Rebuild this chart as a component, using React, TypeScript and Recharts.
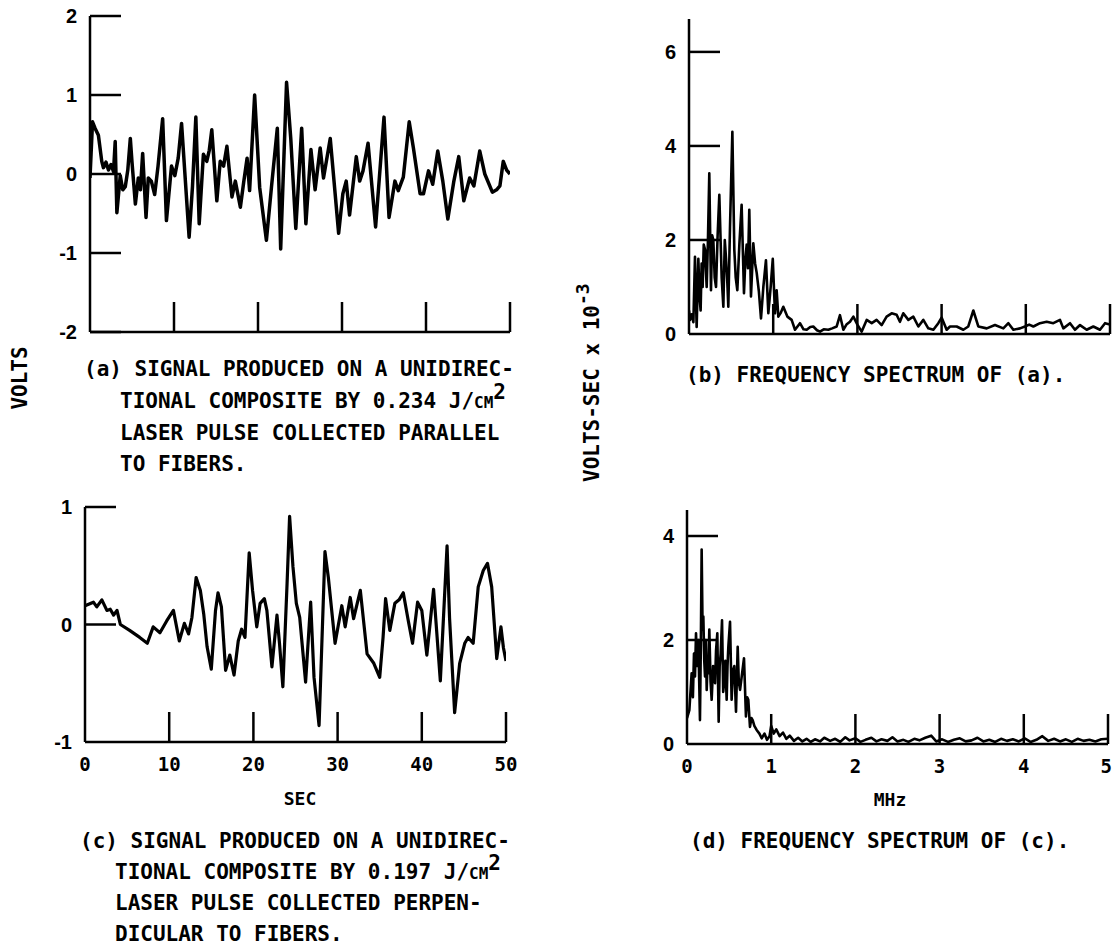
import { LineChart, Line, XAxis, YAxis } from 'recharts';

// (a) signal, parallel to fibers: time (sec) / volts
const timeA = [
  0, 0.3, 0.6, 1.0, 1.4, 1.6, 1.9, 2.2, 2.5, 2.8,
  3.0, 3.2, 3.6, 3.9, 4.2, 4.5, 4.8, 5.0, 5.4, 5.75,
  6.0, 6.27, 6.67, 6.94, 7.3, 7.7, 8.1, 8.65, 9.1, 9.7,
  10.1, 10.5, 10.9, 11.8, 12.2, 12.6, 13.0, 13.5, 13.9, 14.2,
  14.5, 15.1, 15.5, 15.9, 16.3, 16.9, 17.3, 17.9, 18.3, 18.7,
  19.0, 19.6, 20.2, 21.0, 21.6, 22.3, 22.7, 23.4, 23.9, 24.5,
  25.2, 25.7, 26.3, 26.8, 27.4, 27.8, 28.6, 29.6, 30.1, 30.5,
  30.9, 31.7, 32.1, 32.5, 33.1, 34.0, 35.0, 35.6, 36.3, 36.7,
  37.3, 38.0, 38.5, 39.3, 39.7, 40.3, 40.8, 41.4, 42.0, 42.6,
  43.3, 43.9, 44.5, 45.2, 45.7, 46.4, 47.0, 47.9, 48.4, 48.8,
  49.2, 49.6, 50,
];
const voltsA = [
  -0.05, 0.66, 0.58, 0.49, 0.16, 0.08, 0.15, 0.05, 0.12, 0.03,
  0.41, -0.49, -0.02, -0.2, -0.16, 0.05, 0.45, 0.15, -0.38, -0.05,
  -0.2, 0.26, -0.55, -0.05, -0.09, -0.26, 0.1, 0.7, -0.59, 0.1,
  -0.02, 0.2, 0.64, -0.8, -0.16, 0.72, -0.63, 0.25, 0.16, 0.3,
  0.56, -0.34, 0.16, 0.1, 0.35, -0.29, -0.09, -0.42, -0.1, 0.2,
  -0.21, 1.0, -0.17, -0.84, -0.17, 0.58, -0.95, 1.16, 0.45, -0.69,
  0.58, -0.63, 0.31, -0.2, 0.33, -0.05, 0.45, -0.75, -0.25, -0.09,
  -0.52, 0.22, -0.09, 0.04, 0.39, -0.67, 0.72, -0.55, -0.09, -0.21,
  -0.04, 0.66, 0.33, -0.25, -0.25, 0.04, -0.13, 0.29, -0.09, -0.57,
  -0.1, 0.22, -0.34, -0.05, -0.15, 0.29, 0.0, -0.23, -0.2, -0.15,
  0.16, 0.05, 0.0,
];

// (c) signal, perpendicular to fibers
const timeC = [
  0, 1.0, 1.4, 2.0, 2.6, 3.0, 3.4, 3.8, 4.2, 5.3,
  6.5, 7.4, 8.1, 8.9, 9.7, 10.5, 11.2, 11.8, 12.3, 12.7,
  13.2, 13.7, 14.1, 14.5, 15.0, 15.5, 15.8, 16.2, 16.7, 17.2,
  17.7, 18.2, 18.6, 19.0, 19.5, 19.9, 20.4, 20.8, 21.3, 21.6,
  22.2, 22.8, 23.1, 23.5, 24.0, 24.3, 24.7, 25.1, 25.5, 26.2,
  26.8, 27.2, 27.8, 28.5, 28.9, 29.7, 30.5, 30.9, 31.5, 31.9,
  32.7, 33.5, 34.3, 35.0, 35.4, 35.7, 36.2, 36.8, 37.3, 37.8,
  38.4, 38.9, 39.5, 40.0, 40.6, 41.4, 42.2, 43.0, 43.3, 43.9,
  44.5, 45.1, 45.5, 46.1, 46.7, 47.3, 47.8, 48.3, 48.9, 49.4,
  49.7, 50,
];
const voltsC = [
  0.16, 0.19, 0.15, 0.21, 0.12, 0.13, 0.08, 0.12, 0.0, -0.05,
  -0.11, -0.16, -0.02, -0.07, 0.03, 0.12, -0.14, 0.01, -0.08, 0.06,
  0.4, 0.29, 0.09, -0.19, -0.38, 0.12, 0.27, 0.15, -0.39, -0.26,
  -0.43, -0.14, -0.04, -0.11, 0.61, 0.29, -0.02, 0.18, 0.22, 0.12,
  -0.36, 0.08, -0.16, -0.53, 0.35, 0.92, 0.49, 0.18, 0.06, -0.49,
  0.19, -0.45, -0.86, 0.62, 0.4, -0.16, 0.16, -0.02, 0.23, 0.05,
  0.29, -0.25, -0.33, -0.45, -0.11, 0.22, -0.05, 0.18, 0.21, 0.27,
  0.03, -0.16, 0.19, 0.12, -0.26, 0.3, -0.48, 0.67, 0.05, -0.75,
  -0.33, -0.16, -0.11, -0.16, 0.32, 0.46, 0.52, 0.32, -0.29, -0.02,
  -0.2, -0.31,
];

// (b) spectrum of (a): MHz / volts-sec x 1e-3
const freqB = [
  0, 0.012, 0.032, 0.052, 0.071, 0.091, 0.111, 0.125, 0.138, 0.15,
  0.162, 0.175, 0.19, 0.21, 0.225, 0.241, 0.261, 0.275, 0.289, 0.305,
  0.321, 0.34, 0.36, 0.388, 0.408, 0.425, 0.44, 0.455, 0.467, 0.487,
  0.515, 0.538, 0.555, 0.574, 0.598, 0.625, 0.653, 0.67, 0.685, 0.7,
  0.716, 0.736, 0.764, 0.785, 0.804, 0.83, 0.855, 0.883, 0.914, 0.942,
  0.97, 0.995, 1.021, 1.041, 1.061, 1.09, 1.12, 1.168, 1.219, 1.259,
  1.318, 1.36, 1.398, 1.44, 1.476, 1.52, 1.556, 1.6, 1.655, 1.7,
  1.754, 1.793, 1.833, 1.87, 1.912, 1.952, 2.0, 2.05, 2.11, 2.17,
  2.228, 2.288, 2.347, 2.407, 2.466, 2.505, 2.545, 2.605, 2.664, 2.724,
  2.783, 2.842, 2.902, 2.961, 3.0, 3.06, 3.1, 3.179, 3.258, 3.317,
  3.377, 3.436, 3.536, 3.634, 3.733, 3.793, 3.852, 3.931, 3.99, 4.04,
  4.09, 4.169, 4.248, 4.327, 4.406, 4.446, 4.525, 4.584, 4.644, 4.723,
  4.802, 4.881, 4.941, 5.0,
];
const ampB = [
  0.5, 0.3, 0.42, 0.25, 1.64, 0.15, 1.6, 0.8, 0.5, 1.5,
  1.0, 1.9, 1.8, 1.0, 2.0, 3.42, 0.93, 2.1, 2.0, 1.2,
  1.0, 2.1, 2.96, 1.2, 0.58, 2.0, 1.6, 1.1, 0.58, 2.28,
  4.3, 1.8, 1.2, 0.93, 1.9, 2.75, 0.87, 1.6, 1.9, 1.4,
  2.64, 0.8, 1.93, 1.5, 1.3, 0.9, 0.33, 1.0, 1.57, 0.44,
  1.0, 1.6, 0.44, 0.93, 0.37, 0.45, 0.58, 0.37, 0.3, 0.09,
  0.23, 0.1, 0.09, 0.15, 0.16, 0.08, 0.05, 0.1, 0.09, 0.12,
  0.16, 0.4, 0.09, 0.2, 0.26, 0.37, 0.2, 0.05, 0.3, 0.23,
  0.3, 0.19, 0.37, 0.44, 0.41, 0.26, 0.44, 0.3, 0.37, 0.16,
  0.3, 0.12, 0.09, 0.23, 0.35, 0.09, 0.16, 0.16, 0.09, 0.16,
  0.5, 0.16, 0.12, 0.19, 0.12, 0.23, 0.09, 0.12, 0.16, 0.2,
  0.16, 0.23, 0.26, 0.23, 0.3, 0.12, 0.23, 0.09, 0.19, 0.09,
  0.16, 0.09, 0.23, 0.2,
];

// (d) spectrum of (c)
const freqD = [
  0, 0.028, 0.055, 0.07, 0.083, 0.095, 0.107, 0.12, 0.135, 0.145,
  0.154, 0.165, 0.174, 0.185, 0.194, 0.205, 0.214, 0.224, 0.234, 0.245,
  0.253, 0.265, 0.28, 0.293, 0.31, 0.333, 0.345, 0.36, 0.376, 0.388,
  0.4, 0.416, 0.43, 0.44, 0.455, 0.471, 0.481, 0.491, 0.511, 0.53,
  0.545, 0.562, 0.582, 0.602, 0.615, 0.63, 0.65, 0.677, 0.7, 0.715,
  0.728, 0.748, 0.765, 0.78, 0.8, 0.827, 0.86, 0.887, 0.92, 0.95,
  0.98, 1.0, 1.03, 1.06, 1.1, 1.14, 1.18, 1.22, 1.27, 1.32,
  1.37, 1.42, 1.47, 1.52, 1.58, 1.63, 1.7, 1.76, 1.82, 1.88,
  1.93, 2.0, 2.06, 2.12, 2.19, 2.25, 2.31, 2.38, 2.44, 2.5,
  2.57, 2.63, 2.7, 2.76, 2.83, 2.9, 2.96, 3.03, 3.1, 3.17,
  3.24, 3.31, 3.38, 3.45, 3.52, 3.59, 3.66, 3.73, 3.8, 3.87,
  3.94, 4.01, 4.08, 4.15, 4.22, 4.29, 4.36, 4.43, 4.5, 4.57,
  4.64, 4.71, 4.78, 4.85, 4.92, 5.0,
];
const ampD = [
  0.5, 0.65, 1.36, 0.9, 1.74, 1.3, 2.13, 1.5, 2.0, 1.2,
  0.46, 2.0, 3.74, 2.2, 2.45, 1.6, 1.3, 2.0, 1.04, 1.6,
  1.36, 2.2, 1.2, 0.85, 1.5, 1.17, 1.8, 2.13, 0.43, 1.5,
  1.74, 2.38, 1.0, 1.17, 1.6, 0.85, 1.5, 1.87, 2.35, 0.85,
  1.4, 1.5, 0.62, 1.87, 1.2, 1.04, 1.3, 1.65, 0.53, 0.9,
  0.85, 0.33, 0.5, 0.46, 0.35, 0.27, 0.2, 0.11, 0.2, 0.08,
  0.15, 0.35, 0.2, 0.28, 0.15, 0.22, 0.1, 0.16, 0.06, 0.12,
  0.05, 0.1, 0.04, 0.09, 0.05, 0.12, 0.06, 0.1, 0.04, 0.13,
  0.07, 0.11, 0.04, 0.08, 0.12, 0.05, 0.09, 0.06, 0.13, 0.05,
  0.08, 0.04, 0.1, 0.07, 0.12, 0.16, 0.05, 0.09, 0.04, 0.08,
  0.11, 0.05, 0.07, 0.12, 0.05, 0.08, 0.04, 0.1, 0.06, 0.09,
  0.05, 0.11, 0.04, 0.08, 0.15, 0.06, 0.1, 0.05, 0.09, 0.04,
  0.1, 0.06, 0.08, 0.05, 0.09, 0.1,
];

const ticksA = [-2, -1, 0, 1, 2];
const ticksC = [-1, 0, 1];
const ticksB = [0, 2, 4, 6];
const ticksD = [0, 2, 4];
const secTicks = [0, 10, 20, 30, 40, 50];
const mhzTicks = [0, 1, 2, 3, 4, 5];

const dataA = timeA.map((t, i) => ({ t, v: voltsA[i] }));
const dataC = timeC.map((t, i) => ({ t, v: voltsC[i] }));
const dataB = freqB.map((f, i) => ({ f, v: ampB[i] }));
const dataD = freqD.map((f, i) => ({ f, v: ampD[i] }));

const INK = '#000';
const MONO = '"DejaVu Sans Mono", monospace';
const SANS = '"Liberation Sans", Arial, sans-serif';
const AXIS = { stroke: INK, strokeWidth: 2.5 };

// y ticks drawn inward from the axis, label on the outside
const yTick = (len: number, noLine: number[]) => (p: any) => {
  const v = p.payload.value;
  return (
    <g key={`y${v}`}>
      {!noLine.includes(v) && (
        <line x1={p.x} x2={p.x + len} y1={p.y} y2={p.y} stroke={INK} strokeWidth={2.5} />
      )}
      <text x={p.x - 13} y={p.y + 7} textAnchor="end" fontFamily={SANS} fontWeight="bold" fontSize={20} fill={INK}>
        {String(v)}
      </text>
    </g>
  );
};

// x ticks drawn upward from the axis, optional label below
const xTick = (len: number, showLabel: boolean, last: number) => (p: any) => {
  const v = p.payload.value;
  const edge = v === last;
  return (
    <g key={`x${v}`}>
      {v !== 0 && <line x1={p.x} x2={p.x} y1={p.y} y2={p.y - len} stroke={INK} strokeWidth={2.5} />}
      {showLabel && (
        <text
          x={edge ? p.x + 4 : p.x}
          y={p.y + 29}
          textAnchor={edge ? 'end' : 'middle'}
          fontFamily={MONO}
          fontWeight="bold"
          fontSize={19}
          fill={INK}
        >
          {String(v)}
        </text>
      )}
    </g>
  );
};

function Panel(props: {
  left: number; top: number; width: number; height: number;
  margin: { top: number; right: number; bottom: number; left: number };
  xH: number; edgeTick: number;
  data: any[]; xKey: string; xDomain: [number, number]; xTicks: number[]; xLabels: boolean;
  yDomain: [number, number]; yTicks: number[]; noLine: number[]; sw: number;
}) {
  return (
    <div style={{ position: 'absolute', left: props.left, top: props.top }}>
      <LineChart width={props.width} height={props.height} data={props.data} margin={props.margin}>
        <XAxis
          dataKey={props.xKey}
          type="number"
          domain={props.xDomain}
          ticks={props.xTicks}
          interval={0}
          height={props.xH}
          tickSize={0}
          tickMargin={0}
          tickLine={false}
          axisLine={AXIS}
          allowDataOverflow
          tick={xTick(30, props.xLabels, props.edgeTick)}
        />
        <YAxis
          type="number"
          domain={props.yDomain}
          ticks={props.yTicks}
          interval={0}
          width={50}
          tickSize={0}
          tickMargin={0}
          tickLine={false}
          axisLine={AXIS}
          allowDataOverflow
          tick={yTick(31, props.noLine)}
        />
        <Line
          type="linear"
          dataKey="v"
          stroke={INK}
          strokeWidth={props.sw}
          strokeLinejoin="round"
          dot={false}
          isAnimationActive={false}
        />
      </LineChart>
    </div>
  );
}

const cm = (
  <>
    J/<tspan fontSize={16}>CM</tspan>
    <tspan fontSize={21} dy={-9}>2</tspan>
  </>
);

export default function App() {
  return (
    <div style={{ position: 'absolute', left: 0, top: 0, width: 1112, height: 947, background: '#fff' }}>
      <Panel
        left={0} top={0} width={530} height={350} xH={18} edgeTick={-1}
        margin={{ top: 16, right: 20, bottom: 0, left: 40 }}
        data={dataA} xKey="t" xDomain={[0, 50]} xTicks={secTicks} xLabels={false}
        yDomain={[-2, 2]} yTicks={ticksA} noLine={[]} sw={3.5}
      />
      <Panel
        left={0} top={490} width={530} height={330} xH={40} edgeTick={-1}
        margin={{ top: 17, right: 24, bottom: 38, left: 35 }}
        data={dataC} xKey="t" xDomain={[0, 50]} xTicks={secTicks} xLabels={true}
        yDomain={[-1, 1]} yTicks={ticksC} noLine={[-1]} sw={3.2}
      />
      <Panel
        left={600} top={0} width={512} height={350} xH={16} edgeTick={-1}
        margin={{ top: 19, right: 2, bottom: 0, left: 39 }}
        data={dataB} xKey="f" xDomain={[0, 5]} xTicks={mhzTicks} xLabels={false}
        yDomain={[0, 6.7]} yTicks={ticksB} noLine={[0]} sw={2.6}
      />
      <Panel
        left={600} top={490} width={512} height={340} xH={40} edgeTick={5}
        margin={{ top: 20, right: 4, bottom: 46, left: 37 }}
        data={dataD} xKey="f" xDomain={[0, 5]} xTicks={mhzTicks} xLabels={true}
        yDomain={[0, 4.5]} yTicks={ticksD} noLine={[0]} sw={2.6}
      />

      <svg width={1112} height={947} style={{ position: 'absolute', left: 0, top: 0, pointerEvents: 'none' }}>
        <g fontFamily={MONO} fontWeight="bold" fontSize={21} fill={INK}>
          <text x={84} y={376}>(a) SIGNAL PRODUCED ON A UNIDIREC-</text>
          <text x={120} y={408}>TIONAL COMPOSITE BY 0.234 {cm}</text>
          <text x={120} y={440}>LASER PULSE COLLECTED PARALLEL</text>
          <text x={120} y={471}>TO FIBERS.</text>

          <text x={686} y={382}>(b) FREQUENCY SPECTRUM OF (a).</text>

          <text x={80} y={848}>(c) SIGNAL PRODUCED ON A UNIDIREC-</text>
          <text x={115} y={879}>TIONAL COMPOSITE BY 0.197 {cm}</text>
          <text x={115} y={910}>LASER PULSE COLLECTED PERPEN-</text>
          <text x={115} y={941}>DICULAR TO FIBERS.</text>

          <text x={690} y={848}>(d) FREQUENCY SPECTRUM OF (c).</text>

          <text transform="translate(27 378) rotate(-90)" textAnchor="middle">VOLTS</text>
          <text transform="translate(599 482) rotate(-90)">
            VOLTS-SEC x 10<tspan fontSize={18} dy={-10}>-3</tspan>
          </text>
        </g>
        <text x={300} y={805} textAnchor="middle" fontFamily={MONO} fontWeight="bold" fontSize={18} fill={INK}>SEC</text>
        <text x={890} y={806} textAnchor="middle" fontFamily={MONO} fontWeight="bold" fontSize={18} fill={INK}>MHz</text>
      </svg>
    </div>
  );
}
